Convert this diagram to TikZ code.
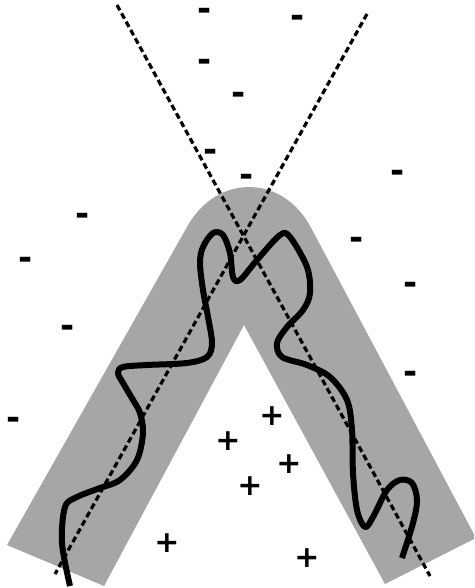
\documentclass[tikz,border=0pt]{standalone}
\usepackage{fontspec}
\newfontfamily\signfont{DejaVu Sans Bold}
\tikzset{
  band/.style={fill=black!35, draw=none},
  axisline/.style={line width=3.2pt, dash pattern=on 6pt off 3.5pt, black},
  chain/.style={line width=6pt, black, line cap=butt, line join=round},
  minussign/.style={inner sep=0pt, anchor=base, yshift=-10.2pt, font=\signfont\fontsize{34}{34}\selectfont},
  plussign/.style={inner sep=0pt, font=\signfont\fontsize{30}{30}\selectfont},
}
\begin{document}
\begin{tikzpicture}[x=1pt,y=-1pt]
\useasboundingbox (0,0) rectangle (474,588);
\fill[white] (0,0) rectangle (474,588);
\begin{scope}
\clip (0,0) rectangle (474,588);
% gray inverted V band
\fill[band] (7,545) -- (187.3,226.4) .. controls (217.2,173.1) and (283,174.1) .. (311.3,228.2)
  -- (476,538) -- (385,584) -- (244,325) -- (104,586) -- cycle;
% dashed axes
\coordinate (a1) at (117,5);
\coordinate (a2) at (430,576);
\coordinate (b1) at (367,14);
\coordinate (b2) at (55,574);
\draw[axisline] (a1) -- (a2);
\draw[axisline] (b1) -- (b2);
% wavy chain
\draw[chain] plot[smooth, tension=0.55] coordinates {
 (70,586) (62,543) (65,507) (77,497) (100,488) (120,480) (137,460) (143,433)
 (140,413) (133,400) (123,383) (118,373) (123,367) (147,365) (187,363) (207,357)
 (212,343) (208,317) (203,290) (200,263) (203,247) (213,233) (223,235) (230,253)
 (233,277) (240,280) (257,260) (280,235) (290,237) (307,267) (310,293) (303,310)
 (287,327) (277,343) (282,357) (307,365) (330,377) (347,400) (352,430) (353,473)
 (357,510) (365,527) (373,517) (387,490) (400,480) (412,483) (417,500) (413,523)
 (402,558)};
\end{scope}
% charges
\node[minussign] (m1) at (205,10) {-};
\node[minussign] (m2) at (298,17) {-};
\node[minussign] (m3) at (205,61) {-};
\node[minussign] (m4) at (239,94) {-};
\node[minussign] (m5) at (211,151) {-};
\node[minussign] (m6) at (247,176) {-};
\node[minussign] (m7) at (398,172) {-};
\node[minussign] (m8) at (83,215) {-};
\node[minussign] (m9) at (357,239) {-};
\node[minussign] (m10) at (26,259) {-};
\node[minussign] (m11) at (411,284) {-};
\node[minussign] (m12) at (68,327) {-};
\node[minussign] (m13) at (411,373) {-};
\node[minussign] (m14) at (14,419) {-};
\node[plussign] (p1) at (272,416) {+};
\node[plussign] (p2) at (228,441) {+};
\node[plussign] (p3) at (289,464) {+};
\node[plussign] (p4) at (250,486) {+};
\node[plussign] (p5) at (167,543) {+};
\node[plussign] (p6) at (307,558) {+};
\end{tikzpicture}
\end{document}
